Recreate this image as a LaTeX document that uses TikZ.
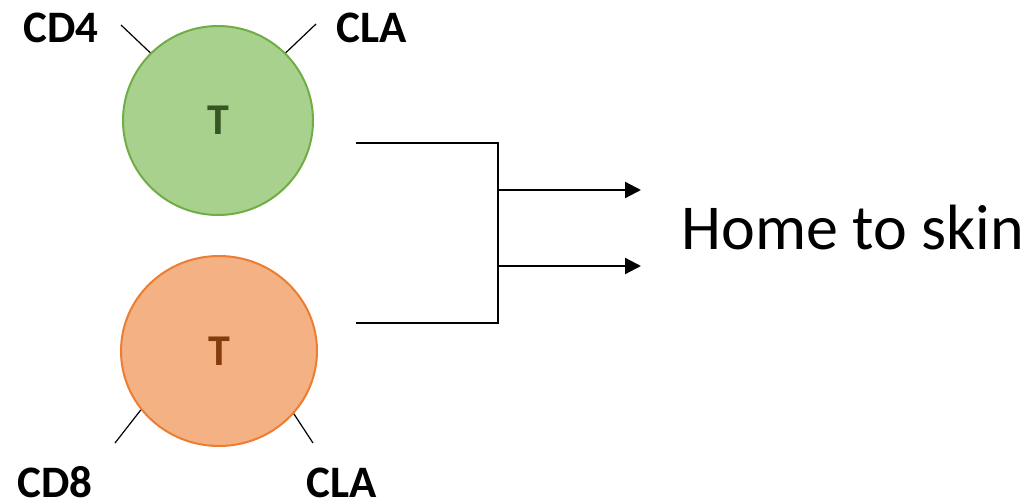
\documentclass[tikz,border=0pt]{standalone}
\usepackage{fontspec}
\setmainfont{Carlito}
\usetikzlibrary{shapes.geometric,arrows.meta}
\definecolor{gfill}{HTML}{A9D18E}
\definecolor{gline}{HTML}{70AD47}
\definecolor{gtext}{HTML}{375623}
\definecolor{ofill}{HTML}{F4B183}
\definecolor{oline}{HTML}{ED7D31}
\definecolor{otext}{HTML}{843C0C}
\tikzset{
  cell/.style={ellipse, inner sep=0pt, line width=2pt, font=\fontsize{44}{48}\selectfont\bfseries},
  lbl/.style={font=\fontsize{45}{50}\selectfont\bfseries, inner sep=0pt, anchor=base},
  tick/.style={line width=1.2pt, black},
  conn/.style={line width=2.2pt, black},
  arr/.style={conn, -{Triangle[length=16pt,width=16pt]}}
}
\begin{document}
\begin{tikzpicture}[x=1pt,y=-1pt]
\useasboundingbox (0,0) rectangle (1030,502);
\node[cell, fill=gfill, draw=gline, text=gtext, minimum width=190pt, minimum height=189pt] (t1) at (218,120.5) {T};
\node[cell, fill=ofill, draw=oline, text=otext, minimum width=196pt, minimum height=190pt] (t2) at (219,351) {T};
\node[lbl] (cd4) at (61,43) {CD4};
\node[lbl] (cla1) at (372,43) {CLA};
\node[lbl] (cd8) at (55,497) {CD8};
\node[lbl] (cla2) at (342,497) {CLA};
\coordinate (a1) at (121,25);
\coordinate (a2) at (316,24);
\coordinate (b1) at (115,443);
\coordinate (b2) at (313,443);
\draw[tick] (a1) -- (t1.135);
\draw[tick] (a2) -- (t1.45);
\draw[tick] (b1) -- (t2.-143);
\draw[tick] (b2) -- (t2.-40);
\coordinate (s1) at (356,143);
\coordinate (s2) at (356,323);
\coordinate (j1) at (498,143);
\coordinate (j2) at (498,323);
\coordinate (m1) at (498,190);
\coordinate (m2) at (498,266);
\coordinate (e1) at (641,190);
\coordinate (e2) at (641,266);
\draw[conn] (s1) -- (j1) -- (j2) -- (s2);
\draw[arr] (m1) -- (e1);
\draw[arr] (m2) -- (e2);
\node[font=\fontsize{64}{70}\selectfont, inner sep=0pt] (home) at (853,228) {Home to skin};
\end{tikzpicture}
\end{document}
